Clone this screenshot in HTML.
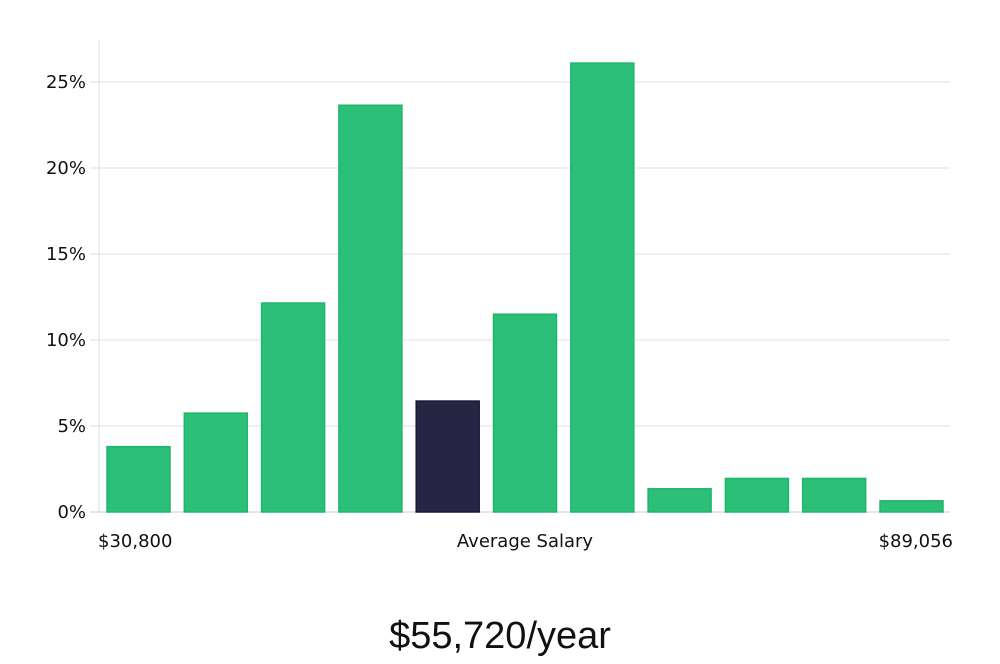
<!DOCTYPE html>
<html><head><meta charset="utf-8"><style>
body{margin:0;background:#fff;width:1000px;height:660px;overflow:hidden;font-family:"DejaVu Sans","Liberation Sans",sans-serif}
</style></head><body>
<svg width="1000" height="660" id="chart">
<g id="grid"></g><g id="bars"></g>
<text x="98" y="547" font-size="18" fill="#111">$30,800</text>
<text x="525" y="547" font-size="18" fill="#111" text-anchor="middle">Average Salary</text>
<text x="953" y="547" font-size="18" fill="#111" text-anchor="end">$89,056</text>
<text x="500" y="648" font-size="38" fill="#111" text-anchor="middle" font-family="Liberation Sans, sans-serif">$55,720/year</text>
</svg>
<script>
const values=[3.8,5.75,12.15,23.65,6.45,11.5,26.1,1.35,1.95,1.95,0.65];
const highlight=[false,false,false,false,true,false,false,false,false,false,false];
const ticks=[0,5,10,15,20,25];
const tickLabels=["0%","5%","10%","15%","20%","25%"];
const NS="http://www.w3.org/2000/svg";
const y=v=>512-v*86/5;
const x=i=>107+i*77.3;
const g=document.getElementById('grid'),b=document.getElementById('bars');
function mk(t,a,p){const e=document.createElementNS(NS,t);for(const k in a)e.setAttribute(k,a[k]);p.appendChild(e);return e;}
const ax=mk('line',{x1:99,x2:99,y1:40,y2:512,stroke:'#ddd'},g);


ticks.forEach((t,i)=>{
 const l=mk('line',{x1:90,x2:950,y1:y(t),y2:y(t),stroke:i===0?'#ccc':'#e0e0e0'},g);
 
 
 const tx=mk('text',{x:86,y:y(t)+6,'font-size':18,fill:'#111','text-anchor':'end'},g);
 tx.textContent=tickLabels[i];
 
 
});
values.forEach((v,i)=>{
 const r=mk('rect',{x:x(i),y:y(v),width:63,height:512-y(v),fill:highlight[i]?'#272544':'#2bbf77',stroke:highlight[i]?'#1a1838':'#22b46c','stroke-width':1.5},b);
 
 
});
</script>
</body></html>
